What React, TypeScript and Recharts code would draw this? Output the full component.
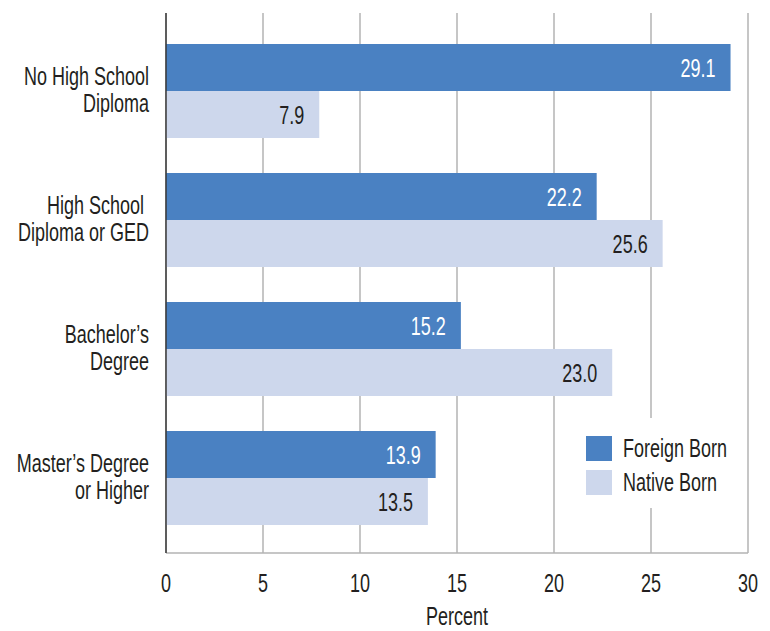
import React from "react";
import {
  BarChart,
  Bar,
  XAxis,
  YAxis,
  CartesianGrid,
  LabelList,
  Label,
} from "recharts";

const categories = [
  "No High School\nDiploma",
  "High School \nDiploma or GED",
  "Bachelor’s\nDegree",
  "Master’s Degree\nor Higher",
];
const foreignBorn = [29.1, 22.2, 15.2, 13.9];
const nativeBorn = [7.9, 25.6, 23.0, 13.5];
const seriesNames = ["Foreign Born", "Native Born"];
const xTicks = [0, 5, 10, 15, 20, 25, 30];
const axisTitle = "Percent";

const FONT = "'Liberation Sans', Arial, sans-serif";
const FS = 25;
const SX = 0.72;
const TEXT = "#231f20";
const FOREIGN = "#4a81c2";
const NATIVE = "#cdd7ec";
const GRID = "#b3b3b3";

const data = categories.map((name, i) => ({
  name,
  foreign: foreignBorn[i],
  native: nativeBorn[i],
}));

function NarrowText({ x, y, anchor, fill, children }: any) {
  return (
    <text
      transform={`translate(${x},${y}) scale(${SX},1)`}
      x={0}
      y={0}
      textAnchor={anchor}
      fill={fill}
      fontSize={FS}
      fontFamily={FONT}
      style={{ whiteSpace: "pre" }}
    >
      {children}
    </text>
  );
}

function CategoryTick(props: any) {
  const { x, y, payload } = props;
  const lines = String(payload.value).split("\n");
  const lh = 27;
  const first = -((lines.length - 1) * lh) / 2 + 8;
  return (
    <text
      transform={`translate(${x},${y}) scale(${SX},1)`}
      textAnchor="end"
      fill={TEXT}
      fontSize={FS}
      fontFamily={FONT}
      style={{ whiteSpace: "pre" }}
    >
      {lines.map((l, i) => (
        <tspan key={i} x={0} y={first + i * lh}>
          {l}
        </tspan>
      ))}
    </text>
  );
}

function NumberTick(props: any) {
  const { x, y, payload } = props;
  return (
    <NarrowText x={x} y={y + 39} anchor="middle" fill={TEXT}>
      {String(payload.value)}
    </NarrowText>
  );
}

function makeBarLabel(color: string) {
  return function BarLabel(props: any) {
    const { x, y, width, height, value } = props;
    return (
      <NarrowText x={x + width - 15} y={y + height / 2 + 9} anchor="end" fill={color}>
        {Number(value).toFixed(1)}
      </NarrowText>
    );
  };
}

function TitleLabel(props: any) {
  const vb = props.viewBox || {};
  return (
    <NarrowText x={vb.x + vb.width / 2} y={vb.y + vb.height - 6} anchor="middle" fill={TEXT}>
      {axisTitle}
    </NarrowText>
  );
}

function LegendOverlay() {
  const colors = [FOREIGN, NATIVE];
  return (
    <svg
      width={165}
      height={90}
      style={{ position: "absolute", left: 575, top: 418 }}
    >
      <rect x={0} y={0} width={165} height={90} fill="#fff" />
      {seriesNames.map((n, i) => (
        <g key={n}>
          <rect x={11} y={18 + i * 34} width={26} height={25} fill={colors[i]} />
          <NarrowText x={48} y={39 + i * 34} anchor="start" fill={TEXT}>
            {n}
          </NarrowText>
        </g>
      ))}
    </svg>
  );
}

export default function App() {
  return (
    <div style={{ position: "absolute", left: 0, top: 0, width: 770, height: 631, background: "#fff" }}>
      <BarChart
        width={770}
        height={631}
        data={data}
        layout="vertical"
        margin={{ top: 13, right: 22, bottom: 0, left: 0 }}
        barCategoryGap={18}
        barGap={0}
      >
        <CartesianGrid horizontal={false} stroke={GRID} strokeWidth={1.5} />
        <XAxis
          type="number"
          domain={[0, 30]}
          ticks={xTicks}
          tickLine={false}
          tickSize={0}
          tickMargin={0}
          height={78}
          axisLine={{ stroke: GRID, strokeWidth: 1.5 }}
          tick={<NumberTick />}
          interval={0}
        >
          <Label content={<TitleLabel />} position="insideBottom" />
        </XAxis>
        <XAxis
          xAxisId="top"
          orientation="top"
          type="number"
          domain={[0, 30]}
          height={0}
          tick={false}
          tickLine={false}
          axisLine={{ stroke: GRID, strokeWidth: 1.5 }}
        />
        <YAxis
          type="category"
          dataKey="name"
          width={166}
          tickLine={false}
          tickSize={0}
          tickMargin={17}
          axisLine={{ stroke: "#3a3a3a", strokeWidth: 1.5 }}
          tick={<CategoryTick />}
          padding={{ top: 13, bottom: 11 }}
          interval={0}
        />
        <Bar dataKey="foreign" name={seriesNames[0]} fill={FOREIGN} isAnimationActive={false}>
          <LabelList dataKey="foreign" content={makeBarLabel("#ffffff")} />
        </Bar>
        <Bar dataKey="native" name={seriesNames[1]} fill={NATIVE} isAnimationActive={false}>
          <LabelList dataKey="native" content={makeBarLabel(TEXT)} />
        </Bar>
      </BarChart>
      <LegendOverlay />
    </div>
  );
}
